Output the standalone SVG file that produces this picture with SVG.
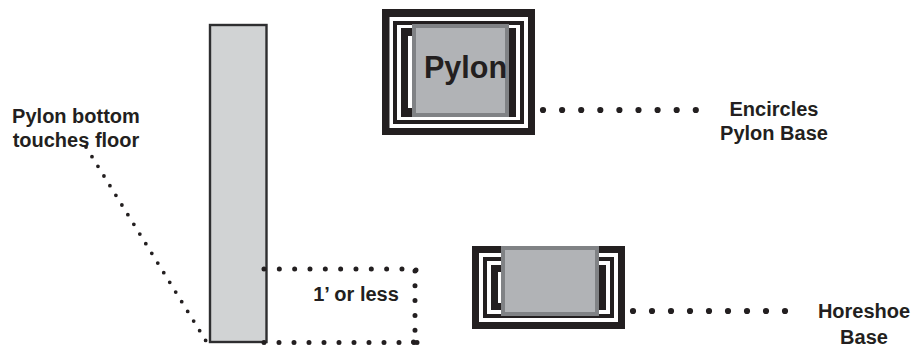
<svg xmlns="http://www.w3.org/2000/svg" width="914" height="347" viewBox="0 0 914 347">
<defs>
<style>
text{font-family:"Liberation Sans",Arial,sans-serif;font-weight:700;fill:#231f20;font-size:20px}
.m{text-anchor:middle}
.k{fill:#231f20}.w{fill:#fff}
.g{fill:#b1b3b6;stroke:#808285;stroke-width:4}
.d{fill:none;stroke:#231f20;stroke-width:5;stroke-linecap:round}
.s{stroke-width:3.800}
.b{stroke-width:6.200}
</style>
</defs>
<rect width="914" height="347" fill="#fff"/>
<g id="pylon-side"><rect x="210" y="25" width="56.500" height="317" fill="#d1d3d4" stroke="#2e2e30" stroke-width="2.400"/></g>
<g id="encircling-base">
<rect class="k" x="382" y="9" width="153" height="126"/>
<rect class="w" x="389.500" y="17" width="138.500" height="111"/>
<rect class="k" x="393" y="21" width="131" height="103"/>
<rect class="w" x="397" y="25" width="123" height="95"/>
<rect class="k" x="401" y="28" width="115" height="89"/>
<rect class="w" x="408" y="36" width="20" height="72"/>
<rect class="g" x="414" y="26" width="93" height="89"/>
<text x="424" y="78" style="font-size:30.500px">Pylon</text>
</g>
<g id="horseshoe-base">
<rect class="k" x="472" y="246" width="153" height="83"/>
<rect class="w" x="479" y="253" width="139" height="69"/>
<rect class="k" x="483" y="257" width="131" height="61"/>
<rect class="w" x="487" y="261" width="123" height="53"/>
<rect class="k" x="491" y="265" width="115" height="45"/>
<rect class="w" x="498" y="272" width="20" height="31"/>
<rect class="g" x="503" y="248" width="94" height="66"/>
</g>
<g id="connectors">
<path class="d" stroke-dasharray="0 15.330" d="M264 269H416.500"/>
<path class="d" stroke-dasharray="0 15" d="M264 342.500H417"/>
<path class="d" stroke-dasharray="0 14.800" d="M415 271V342"/>
<path class="d" d="M416 270V270M413.500 342V342M417 342.500V342.500"/>
<path class="d s" stroke-dasharray="0 11.370" d="M86 147L206 341"/>
<path class="d b" stroke-dasharray="0 19.100" d="M543 110H696"/>
<path class="d b" stroke-dasharray="0 19" d="M633 311H786"/>
</g>
<g id="labels">
<text class="m" x="76" y="123">Pylon bottom</text>
<text class="m" x="76" y="147">touches floor</text>
<text class="m" x="774" y="116">Encircles</text>
<text class="m" x="774" y="140">Pylon Base</text>
<text class="m" x="864" y="318">Horeshoe</text>
<text class="m" x="864" y="344">Base</text>
<text class="m" x="356" y="301">1’ or less</text>
</g>
</svg>
